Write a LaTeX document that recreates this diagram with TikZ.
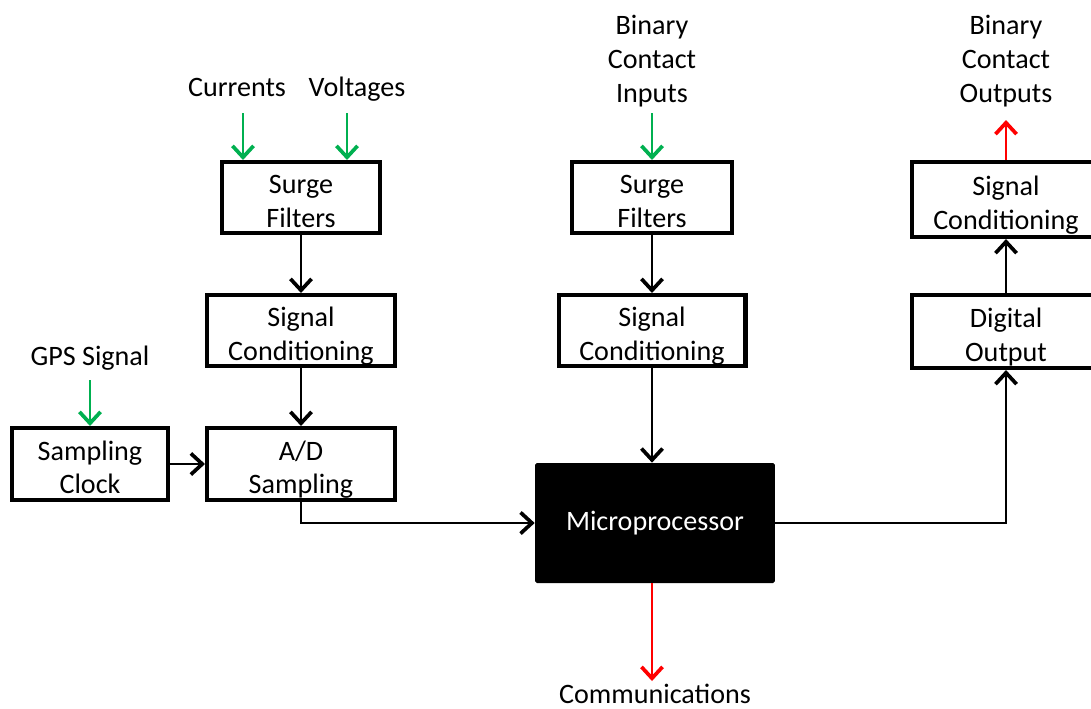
\documentclass[tikz,border=0pt]{standalone}
\usepackage{fontspec}
\setmainfont{Carlito}
\usetikzlibrary{arrows.meta}
\definecolor{ingreen}{RGB}{0,176,80}
\definecolor{outred}{RGB}{255,0,0}

\begin{document}
\begin{tikzpicture}[
  x=0.02cm, y=-0.02cm,
  every node/.style={font=\fontsize{16}{19.2}\selectfont, align=center},
  signal/.style={text depth=0pt},
  block/.style={draw, line width=2.3pt, inner sep=2pt, text height=34pt, text depth=0pt},
  arrow/.style={-{Straight Barb[length=6.5pt, width=12pt, line width=2.1pt]}, line width=0.85pt},
  inarrow/.style={arrow, ingreen},
  outarrow/.style={arrow, outred}
]
  \useasboundingbox (0,0) rectangle (1091,708);

  % input side
  \node[signal] (cur) at (237,87) {Currents};
  \node[signal] (vol) at (357,87) {Voltages};
  \node[signal] (gps) at (90,356) {GPS Signal};
  \node[signal] (bci) at (652,59) {Binary\\Contact\\Inputs};
  \node[signal] (bco) at (1006,59) {Binary\\Contact\\Outputs};
  \node[signal] (comm) at (655,694) {Communications};

  \node[block, minimum width=3.16cm, minimum height=1.42cm] (sf1) at (301,197.5) {Surge\\Filters};
  \node[block, minimum width=3.76cm, minimum height=1.42cm] (sc1) at (301,330.5) {Signal\\Conditioning};
  \node[block, minimum width=3.76cm, minimum height=1.44cm] (ad)  at (301,464) {A/D\\Sampling};
  \node[block, minimum width=3.12cm, minimum height=1.44cm] (clk) at (90,464) {Sampling\\Clock};
  \node[block, minimum width=3.2cm,  minimum height=1.42cm] (sf2) at (652,197.5) {Surge\\Filters};
  \node[block, minimum width=3.74cm, minimum height=1.42cm] (sc2) at (652,330.5) {Signal\\Conditioning};
  \node[block, minimum width=3.76cm, minimum height=1.46cm] (do)  at (1006,331.5) {Digital\\Output};
  \node[block, minimum width=3.76cm, minimum height=1.5cm]  (sc3) at (1006,199.5) {Signal\\Conditioning};
  \node[fill=black, text=white, rounded corners=1pt, minimum width=4.8cm, minimum height=2.4cm]
        (mp) at (655,523) {Microprocessor};

  \coordinate (cur-in) at (243,113);
  \coordinate (vol-in) at (347,113);
  \coordinate (gps-in) at (90,380);
  \coordinate (bci-in) at (652,113);
  \coordinate (bco-out) at (1006,120);
  \coordinate (comm-out) at (652,681);

  \draw[inarrow] (cur-in) -- (cur-in |- sf1.north);
  \draw[inarrow] (vol-in) -- (vol-in |- sf1.north);
  \draw[inarrow] (gps-in) -- (clk.north);
  \draw[inarrow] (bci-in) -- (sf2.north);

  \draw[arrow] (sf1) -- (sc1);
  \draw[arrow] (sc1) -- (ad);
  \draw[arrow] (clk) -- (ad);
  \draw[arrow] (ad.south) |- (mp.west);
  \draw[arrow] (sf2) -- (sc2);
  \draw[arrow] (sc2) -- (sc2 |- mp.north);
  \draw[arrow] (mp.east) -| (do.south);
  \draw[arrow] (do) -- (sc3);

  \draw[outarrow] (sc3.north) -- (bco-out);
  \draw[outarrow] (mp.south -| comm-out) -- (comm-out);
\end{tikzpicture}
\end{document}
